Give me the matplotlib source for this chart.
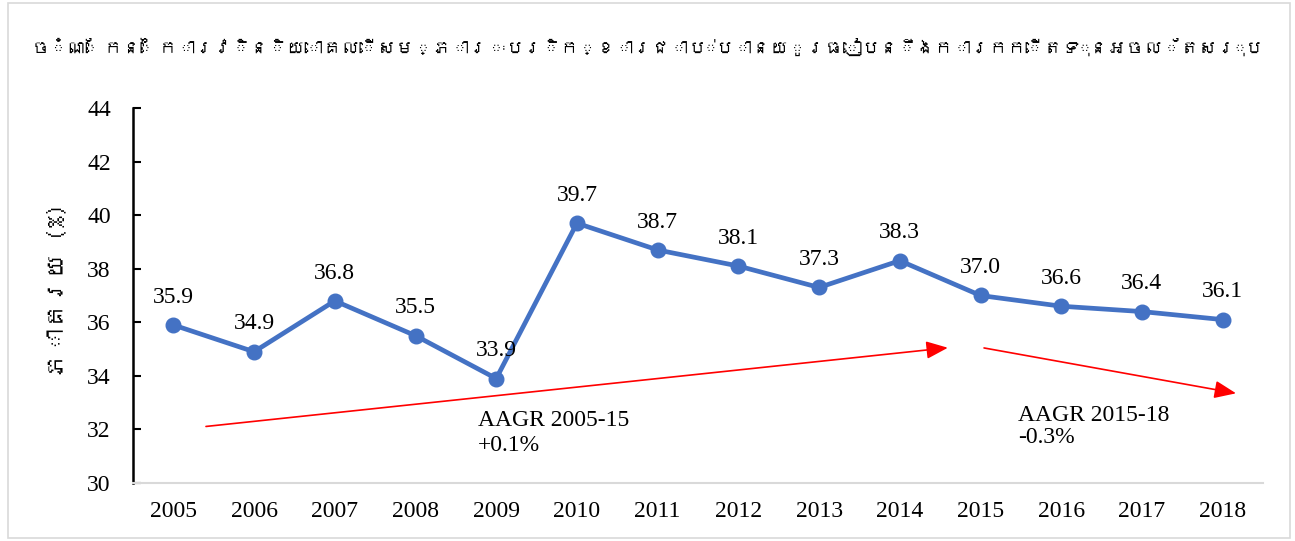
import matplotlib
matplotlib.use("Agg")
import matplotlib.pyplot as plt
from matplotlib import font_manager, ft2font
from matplotlib.patches import Rectangle, FancyArrowPatch

# ---------------- data ----------------
years = ["2005", "2006", "2007", "2008", "2009", "2010", "2011",
         "2012", "2013", "2014", "2015", "2016", "2017", "2018"]
share = [35.9, 34.9, 36.8, 35.5, 33.9, 39.7, 38.7,
         38.1, 37.3, 38.3, 37.0, 36.6, 36.4, 36.1]
y_ticks = [30, 32, 34, 36, 38, 40, 42, 44]

title_text = "ចំណែកនៃការវិនិយោគលើសម្ភារៈបរិក្ខារជាប់បានយូរធៀបនឹងការកកើតទុនអចល័តសរុប"
ylabel_text = "ភាគរយ (%)"

# trend annotations: (start x, start y, end x, end y) in data units, label, label position
trend_arrows = [(0.37, 32.1, 9.63, 35.06), (10.01, 35.06, 13.2, 33.33)]
trend_labels = ["AAGR 2005-15\n+0.1%", "AAGR 2015-18\n-0.3%"]
trend_label_pos = [(3.77, 32.72), (10.47, 32.93)]
trend_linespacing = [1.22, 1.08]

# ---------------- fonts ----------------
def find_khmer_font():
    for path in font_manager.findSystemFonts():
        try:
            f = ft2font.FT2Font(path)
            cmap = f.get_charmap()
            if 0x1785 in cmap and 0x17B6 in cmap and 0x1780 in cmap:
                return path
        except Exception:
            continue
    return None

khmer_path = find_khmer_font()
khmer_family = ["DejaVu Sans"]
if khmer_path:
    font_manager.fontManager.addfont(khmer_path)
    name = font_manager.FontProperties(fname=khmer_path).get_name()
    khmer_family = [name, "DejaVu Sans"]

serif = ["Liberation Serif", "DejaVu Serif"]
plt.rcParams["font.family"] = serif

# ---------------- figure ----------------
W, H = 1295, 541
fig = plt.figure(figsize=(W / 100, H / 100), dpi=100)
fig.patches.append(Rectangle((0.006, 0.005), 0.99, 0.99, transform=fig.transFigure,
                             fill=False, edgecolor="#d9d9d9", linewidth=1.2))

ax = fig.add_axes([133 / W, 1 - 483 / H, (1263 - 133) / W, (483 - 108) / H])
x = list(range(len(years)))
blue = "#4472C4"
ax.plot(x, share, color=blue, linewidth=3.4, marker="o", markersize=10.5,
        solid_capstyle="round", zorder=3)

for xi, v in zip(x, share):
    ax.annotate(f"{v:.1f}", (xi, v), xytext=(0, 20), textcoords="offset points",
                ha="center", va="center", fontsize=17, color="black")

ax.set_xlim(-0.5, len(years) - 0.5)
ax.set_ylim(30, 44)
ax.set_yticks(y_ticks)
ax.set_xticks(x)
ax.set_xticklabels(years)
ax.tick_params(axis="y", direction="in", length=6, width=1.5, labelsize=17, pad=16,
               colors="black")
ax.tick_params(axis="x", length=0, labelsize=17, pad=13)

for s in ["top", "right"]:
    ax.spines[s].set_visible(False)
ax.spines["left"].set_linewidth(1.8)
ax.spines["left"].set_color("black")
ax.spines["bottom"].set_color("#d9d9d9")
ax.spines["bottom"].set_linewidth(1.5)

for (x0, y0, x1, y1) in trend_arrows:
    arr = FancyArrowPatch((x0, y0), (x1, y1), arrowstyle="-|>,head_length=1.1,head_width=0.45",
                          mutation_scale=12, color="red", linewidth=1.2, zorder=2)
    ax.add_patch(arr)

for txt, (tx, ty), ls in zip(trend_labels, trend_label_pos, trend_linespacing):
    ax.text(tx, ty, txt, ha="left", va="top", fontsize=17, color="black",
            linespacing=ls)

# title and y label in a Khmer-capable font, scaled to fit the figure
title = fig.text(648 / W, 1 - 47 / H, title_text, ha="center", va="center", fontsize=24,
                 family=khmer_family)
ylab = fig.text(57 / W, 1 - 290 / H, ylabel_text, ha="center", va="center", rotation=90,
                fontsize=17, family=khmer_family)

fig.canvas.draw()
r = fig.canvas.get_renderer()
tw = title.get_window_extent(r).width
if tw > 0:
    title.set_fontsize(min(26, 24 * 1235 / tw))
lh = ylab.get_window_extent(r).height
if lh > 0:
    ylab.set_fontsize(max(12, min(18, 17 * 175 / lh)))

fig.savefig("out.png", dpi=100)
